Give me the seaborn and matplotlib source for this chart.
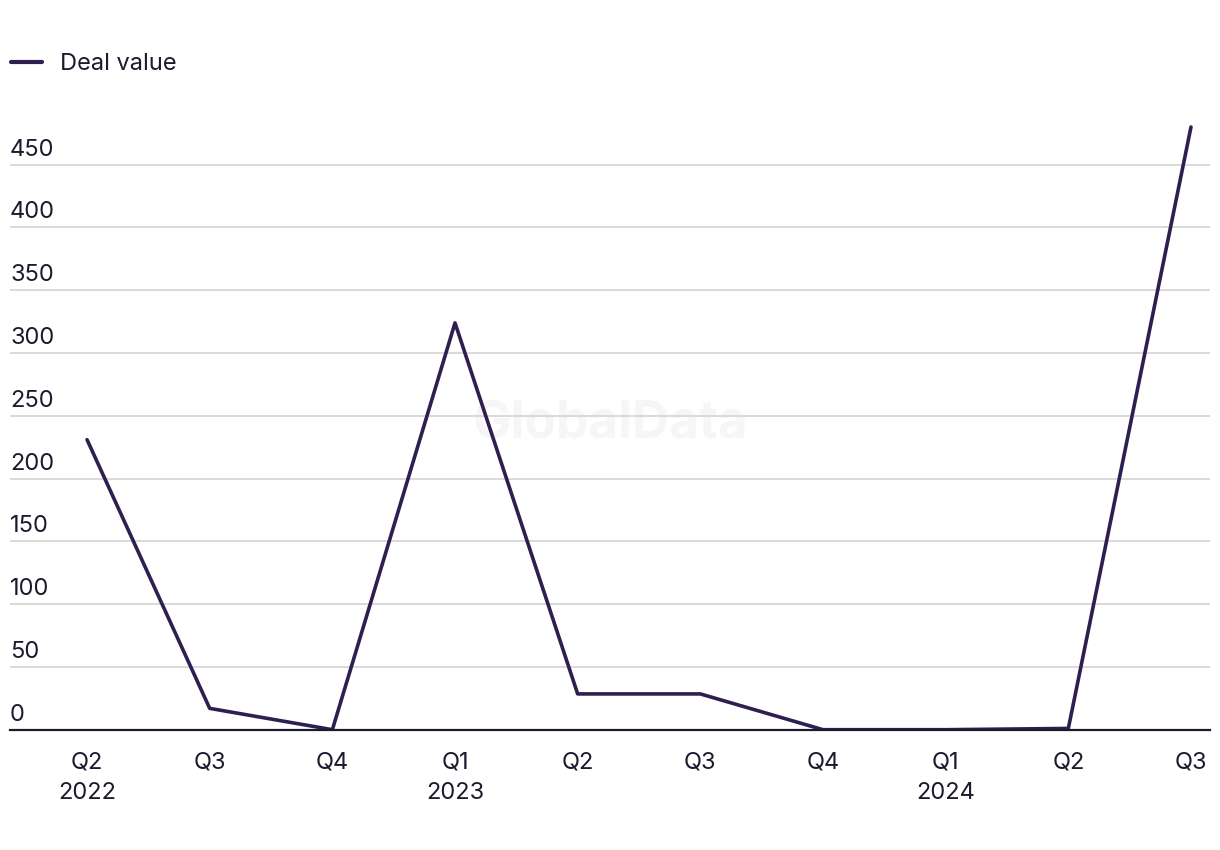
import matplotlib
matplotlib.use("Agg")
import matplotlib.pyplot as plt
import matplotlib.transforms as mtrans
import seaborn as sns
import pandas as pd

quarters = ["Q2\n2022", "Q3", "Q4", "Q1\n2023", "Q2", "Q3", "Q4", "Q1\n2024", "Q2", "Q3"]
deal_value = [231, 17, 0, 324, 28.5, 28.5, 0, 0, 1, 480]
y_ticks = [0, 50, 100, 150, 200, 250, 300, 350, 400, 450]

sns.set_theme(style="white")
plt.rcParams["font.family"] = ["Inter", "DejaVu Sans"]

line_color = "#2e1f50"
text_color = "#1c1b2e"

df = pd.DataFrame({"idx": range(len(quarters)), "value": deal_value})

fig = plt.figure(figsize=(12.2, 8.5), dpi=100)
ax = fig.add_axes([10 / 1220, (850 - 729.7) / 850, 1200 / 1220, (729.7 - 120) / 850])

sns.lineplot(data=df, x="idx", y="value", ax=ax, color=line_color, linewidth=2.6,
             label="Deal value", zorder=3)

ax.set_xlim(-0.628, 9.155)
ax.set_ylim(0, 485.6)
ax.set_yticks(y_ticks)
ax.set_xticks(range(len(quarters)))
ax.set_xticklabels(quarters, linespacing=1.45)
ax.set_xlabel("")
ax.set_ylabel("")

for s in ["top", "right", "left"]:
    ax.spines[s].set_visible(False)
ax.spines["bottom"].set_color(text_color)
ax.spines["bottom"].set_linewidth(1.6)
ax.spines["bottom"].set_zorder(4)

ax.grid(axis="y", color="#d9d9d9", linewidth=1.4)
ax.grid(axis="x", visible=False)
ax.set_axisbelow(True)

ax.tick_params(axis="x", length=0, pad=16, labelsize=17, labelcolor=text_color)
ax.tick_params(axis="y", length=0, pad=0, labelsize=17, labelcolor=text_color)
offset = mtrans.ScaledTranslation(0, 9 / 100, fig.dpi_scale_trans)
for lab in ax.get_yticklabels():
    lab.set_horizontalalignment("left")
    lab.set_verticalalignment("baseline")
    lab.set_transform(lab.get_transform() + offset)

leg = ax.legend(loc="upper left", bbox_to_anchor=(-0.0165, 1.145), frameon=False,
                fontsize=17, handlelength=1.3, handletextpad=0.75, labelcolor=text_color)
for h in leg.get_lines():
    h.set_linewidth(3)

ax.text(0.5, 0.5, "GlobalData", transform=fig.transFigure, ha="center", va="center",
        fontsize=37, fontweight="bold", color="#f6f6f6", zorder=0)

fig.savefig("out.png", dpi=100, facecolor="white")
